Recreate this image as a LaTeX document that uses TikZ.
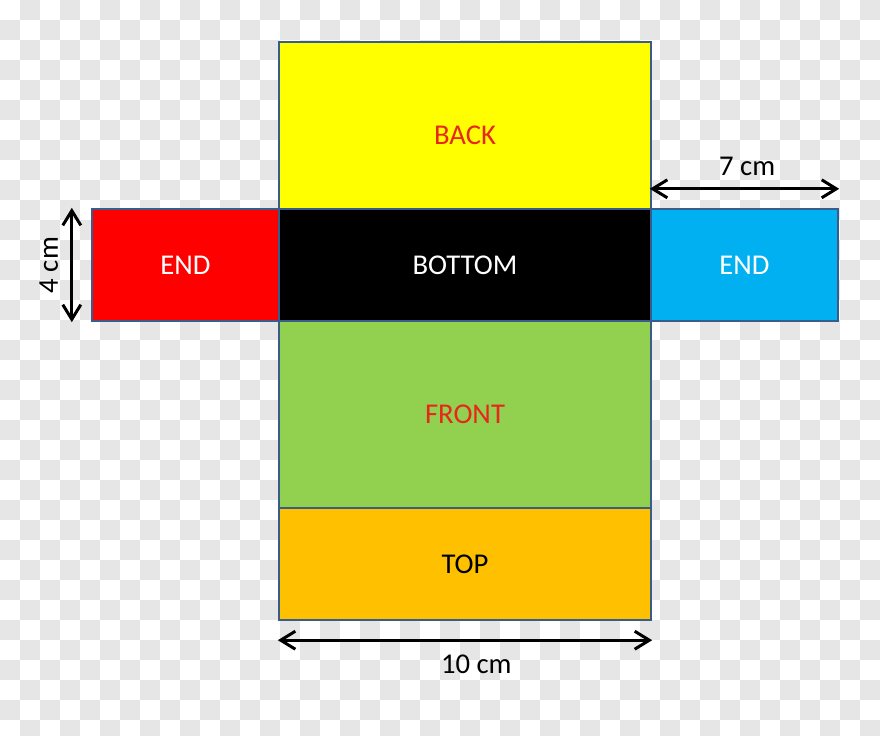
\documentclass[tikz,border=0pt]{standalone}
\usepackage{fontspec}
\setmainfont{Carlito}
\usetikzlibrary{arrows.meta}
\definecolor{checker}{HTML}{E6E6E6}
\definecolor{netedge}{HTML}{385D8A}
\definecolor{backyellow}{HTML}{FFFF00}
\definecolor{endred}{HTML}{FF0000}
\definecolor{endblue}{HTML}{00B0F0}
\definecolor{frontgreen}{HTML}{92D050}
\definecolor{toporange}{HTML}{FFC000}
\definecolor{labelred}{HTML}{E8261C}

\begin{document}
\begin{tikzpicture}[x=0.75pt,y=-0.75pt]
\tikzstyle{every node}+=[inner sep=0pt, font=\fontsize{21.5}{26}\selectfont]
\tikzstyle{face}=[draw=netedge, line width=1.8pt, rectangle, minimum width=279pt]
\tikzstyle{dim}=[black, line width=2.25pt, {Straight Barb[length=11pt,width=13.5pt]}-{Straight Barb[length=11pt,width=13.5pt]}]
\fill [white] (0,0) rectangle (880,736);
% background squares
\foreach \i in {1,3,...,43}{\foreach \j in {0,2,...,34}{\fill [checker] (20*\i,20*\j) rectangle ++(20,20);}}
\foreach \i in {1,3,...,43}{\fill [checker] (20*\i,720) rectangle ++(20,16);}
\foreach \i in {0,2,...,42}{\foreach \j in {1,3,...,35}{\fill [checker] (20*\i,20*\j) rectangle ++(20,20);}}
% faces of the net
\node [face, fill=backyellow, text=labelred, minimum height=125.25pt, text height=28.8pt] (back) at (465,125.5) {BACK};
\node [face, fill=black, text=white, minimum height=84pt] (bottom) at (465,265) {BOTTOM};
\node [face, fill=endred, text=white, minimum width=140.25pt, minimum height=84pt] (lend) at (185.5,265) {END};
\node [face, fill=endblue, text=white, minimum width=140.25pt, minimum height=84pt] (rend) at (744.5,265) {END};
\node [face, fill=frontgreen, text=labelred, minimum height=140.25pt] (front) at (465,414.5) {FRONT};
\node [face, fill=toporange, text=black, minimum height=84pt] (top) at (465,564) {TOP};
% dimensions
\draw [dim] ([xshift=-14.25pt]lend.north west) -- node [midway, xshift=-17.25pt, rotate=90] {4 cm} ([xshift=-14.25pt]lend.south west);
\draw [dim] ([yshift=14.25pt]rend.north west) -- node [midway, yshift=16.5pt, xshift=2pt] {7 cm} ([yshift=14.25pt]rend.north east);
\draw [dim] ([yshift=-14.25pt]top.south west) -- node [midway, yshift=-18pt, xshift=8.5pt] {10 cm} ([yshift=-14.25pt]top.south east);
\end{tikzpicture}
\end{document}
